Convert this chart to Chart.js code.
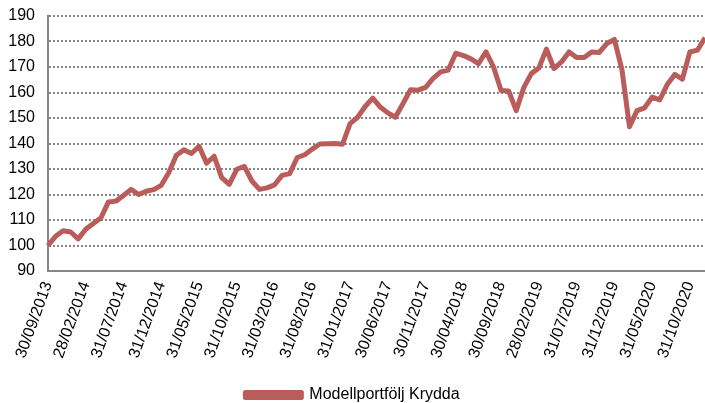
<!DOCTYPE html>
<html>
<head>
<meta charset="utf-8">
<script src="https://cdn.jsdelivr.net/npm/chart.js@4/dist/chart.umd.min.js"></script>
<style>
  html, body { margin: 0; padding: 0; background: #fff; }
  #wrap { width: 705px; height: 403px; }
</style>
</head>
<body>
<div id="wrap"><canvas id="chart" width="705" height="403"></canvas></div>
<script>
// month-end dates, 30/09/2013 .. 31/12/2020
const dates = [
  "30/09/2013", "31/10/2013", "30/11/2013", "31/12/2013",
  "31/01/2014", "28/02/2014", "31/03/2014", "30/04/2014", "31/05/2014", "30/06/2014",
  "31/07/2014", "31/08/2014", "30/09/2014", "31/10/2014", "30/11/2014", "31/12/2014",
  "31/01/2015", "28/02/2015", "31/03/2015", "30/04/2015", "31/05/2015", "30/06/2015",
  "31/07/2015", "31/08/2015", "30/09/2015", "31/10/2015", "30/11/2015", "31/12/2015",
  "31/01/2016", "29/02/2016", "31/03/2016", "30/04/2016", "31/05/2016", "30/06/2016",
  "31/07/2016", "31/08/2016", "30/09/2016", "31/10/2016", "30/11/2016", "31/12/2016",
  "31/01/2017", "28/02/2017", "31/03/2017", "30/04/2017", "31/05/2017", "30/06/2017",
  "31/07/2017", "31/08/2017", "30/09/2017", "31/10/2017", "30/11/2017", "31/12/2017",
  "31/01/2018", "28/02/2018", "31/03/2018", "30/04/2018", "31/05/2018", "30/06/2018",
  "31/07/2018", "31/08/2018", "30/09/2018", "31/10/2018", "30/11/2018", "31/12/2018",
  "31/01/2019", "28/02/2019", "31/03/2019", "30/04/2019", "31/05/2019", "30/06/2019",
  "31/07/2019", "31/08/2019", "30/09/2019", "31/10/2019", "30/11/2019", "31/12/2019",
  "31/01/2020", "29/02/2020", "31/03/2020", "30/04/2020", "31/05/2020", "30/06/2020",
  "31/07/2020", "31/08/2020", "30/09/2020", "31/10/2020", "30/11/2020", "31/12/2020"
];

const krydda = [
  100, 103.6, 105.8, 105.3, 102.6, 106.4, 108.6, 110.8, 117.1, 117.4,
  119.6, 122, 120, 121.3, 121.9, 123.6, 128.6, 135.4, 137.5, 136.1,
  138.9, 132.3, 135, 126.6, 124, 129.9, 131, 125.3, 122, 122.6,
  123.8, 127.5, 128.2, 134.5, 135.6, 137.8, 139.8, 139.9, 140, 139.7,
  147.8, 150.3, 154.5, 157.8, 154.3, 152, 150.3, 155.6, 161.1, 160.9,
  162, 165.5, 168.1, 168.8, 175.4, 174.5, 173.2, 171.3, 175.9, 170,
  160.8, 160.6, 152.9, 161.9, 167.4, 169.6, 177, 169.4, 172, 175.9,
  173.7, 173.7, 175.9, 175.7, 179.2, 180.8, 169, 146.6, 152.9, 154,
  158.2, 157.1, 163.1, 167.1, 165.2, 175.9, 176.6, 181.5
];

const seriesName = "Modellportfölj Krydda";
const yMin = 90, yMax = 190, yStep = 10;
const labelEvery = 5;

const lineColor = "#b95d5b";
const axisColor = "#878787";
const font = { family: "'Liberation Sans', Arial, sans-serif", size: 16 };

new Chart(document.getElementById("chart"), {
  type: "line",
  data: {
    labels: dates,
    datasets: [{
      label: seriesName,
      data: krydda,
      borderColor: lineColor,
      backgroundColor: lineColor,
      borderWidth: 5,
      borderJoinStyle: "round",
      pointRadius: 0,
      tension: 0
    }]
  },
  options: {
    responsive: false,
    animation: false,
    layout: { padding: { top: 16, right: 0, left: 0, bottom: -10 } },
    plugins: {
      tooltip: { enabled: false },
      legend: {
        position: "bottom",
        labels: {
          color: "#000",
          font: font,
          boxWidth: 56,
          boxHeight: 5,
          padding: 4
        }
      }
    },
    scales: {
      x: {
        offset: false,
        grid: { display: false, drawTicks: false },
        border: { color: axisColor, width: 2 },
        ticks: {
          autoSkip: false,
          maxRotation: 70,
          minRotation: 70,
          padding: 8,
          color: "#000",
          font: font,
          callback: (v, i) => (i % labelEvery === 0 ? dates[i] : "")
        },
        afterFit: (s) => {
          s.height = 112;
          s.paddingLeft = 0;
          s.paddingRight = 0;
        }
      },
      y: {
        min: yMin,
        max: yMax,
        grid: {
          drawTicks: false,
          color: axisColor,
          lineWidth: 2
        },
        border: { color: axisColor, width: 2, dash: [2, 2] },
        ticks: {
          stepSize: yStep,
          padding: 13,
          color: "#000",
          font: font
        },
        afterFit: (s) => {
          s.width = 48;
          s.paddingTop = 0;
          s.paddingBottom = 0;
        }
      }
    }
  }
});
</script>
</body>
</html>
